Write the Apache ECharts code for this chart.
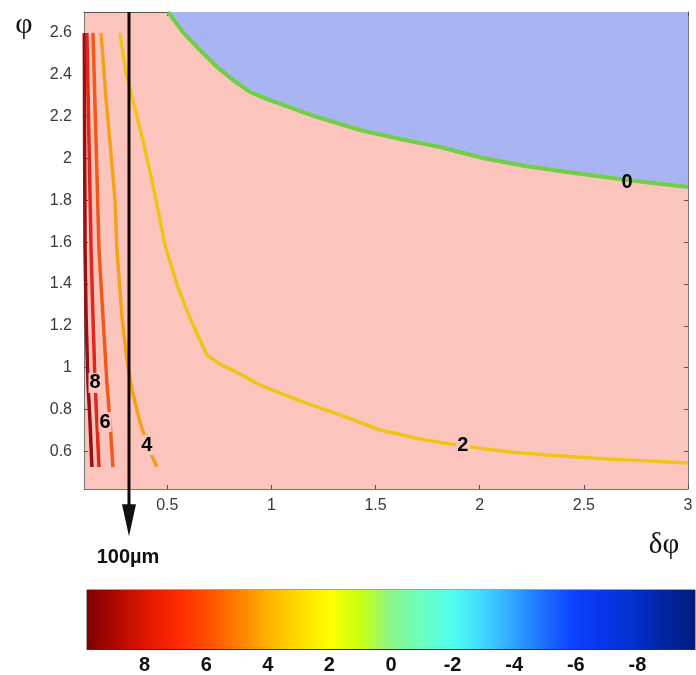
<!DOCTYPE html>
<html><head><meta charset="utf-8">
<script src="https://cdn.jsdelivr.net/npm/echarts@6/dist/echarts.min.js"></script>
<style>html,body{margin:0;padding:0;background:#fff;} #main{width:696px;height:675px;}</style>
</head><body><div id="main"></div>
<script>
// ---------- data ----------
const xTicks = [0.5, 1, 1.5, 2, 2.5, 3];
const yTicks = [0.6, 0.8, 1, 1.2, 1.4, 1.6, 1.8, 2, 2.2, 2.4, 2.6];
const colorbarTicks = [8, 6, 4, 2, 0, -2, -4, -6, -8];
const colorbarRange = [-9.87, 9.87];
const contourLevels = [10, 8, 6, 4, 2, 0];
const contour10 = [[0.1015,2.6],[0.103,2.05],[0.105,1.565],[0.110,1.246],[0.119,0.929],[0.129,0.738],[0.138,0.525]];
const contour8  = [[0.114,2.6],[0.124,2.076],[0.134,1.565],[0.143,1.246],[0.153,0.929],[0.162,0.738],[0.172,0.525]];
const contour6  = [[0.143,2.6],[0.158,2.076],[0.172,1.565],[0.191,1.246],[0.210,0.929],[0.225,0.738],[0.239,0.525]];
const contour4  = [[0.182,2.6],[0.206,2.281],[0.225,2.076],[0.249,1.80],[0.258,1.565],[0.282,1.246],[0.306,1.04],[0.330,0.897],[0.369,0.739],[0.407,0.625],[0.450,0.525]];
const contour2  = [[0.273,2.6],[0.297,2.437],[0.330,2.294],[0.383,2.088],[0.431,1.873],[0.489,1.586],[0.547,1.395],[0.609,1.237],[0.657,1.132],[0.691,1.060],[0.753,1.017],[0.849,0.970],[0.945,0.917],[1.137,0.841],[1.329,0.774],[1.521,0.702],[1.713,0.659],[1.919,0.625],[2.145,0.597],[2.323,0.582],[2.611,0.563],[2.817,0.554],[3.0,0.544]];
const contour0  = [[0.503,2.70],[0.575,2.604],[0.657,2.518],[0.739,2.437],[0.815,2.375],[0.897,2.318],[0.979,2.284],[1.055,2.256],[1.219,2.198],[1.425,2.136],[1.617,2.093],[1.809,2.055],[2.015,2.002],[2.217,1.964],[2.419,1.935],[2.707,1.897],[3.0,1.863]];
const labelText = ['8', '6', '4', '2', '0'];
const labelPos  = [[0.153,0.927],[0.201,0.740],[0.402,0.630],[1.919,0.630],[2.707,1.883]];
const arrowX = 0.316;
const arrowY = [2.7, 0.271];

// ---------- styles ----------
const levelColors = {10:'#980f0f', 8:'#e3261a', 6:'#f4581c', 4:'#f5a11a', 2:'#f0c417', 0:'#6fcf45'};
const contours = {10:contour10, 8:contour8, 6:contour6, 4:contour4, 2:contour2};
const pink = '#fbc5bd', blue = '#a9b5f2';
const sans = '"Liberation Sans", Arial, sans-serif';
const serif = '"Liberation Serif", "DejaVu Serif", serif';

const chart = echarts.init(document.getElementById('main'));
const series = [];
series.push({
  type:'line', xAxisIndex:0, yAxisIndex:0, data: contour0, symbol:'none', z:2,
  lineStyle:{color:levelColors[0], width:4},
  areaStyle:{color:blue, opacity:1, origin:'end'}
});
contourLevels.filter(l => l !== 0).forEach(l => {
  series.push({type:'line', xAxisIndex:0, yAxisIndex:0, data: contours[l], symbol:'none', z:3,
    lineStyle:{color:levelColors[l], width:3.5}});
});
series.push({
  type:'scatter', xAxisIndex:0, yAxisIndex:0, z:6, symbolSize:1, itemStyle:{color:'rgba(0,0,0,0)'},
  data: labelPos.map((p, i) => ({value:p, label:{backgroundColor: labelText[i] === '0' ? 'transparent' : pink}})),
  label:{show:true, position:'inside', formatter: p => labelText[p.dataIndex],
    fontFamily:sans, fontWeight:'bold', fontSize:20, color:'#000', opacity:1,
    textBorderWidth:0, textBorderColor:'transparent', padding:[0,1]}
});
series.push({
  type:'line', xAxisIndex:0, yAxisIndex:0, clip:false, z:10,
  data:[{value:[arrowX, arrowY[0]], symbol:'none'},
        {value:[arrowX, arrowY[1]], symbol:'triangle', symbolSize:[14,32], symbolRotate:180}],
  lineStyle:{color:'#140606', width:3}, itemStyle:{color:'#111'}
});
series.push({
  type:'line', xAxisIndex:2, yAxisIndex:2, symbol:'none',
  data:[[colorbarRange[1],1],[colorbarRange[0],1]],
  lineStyle:{width:0},
  areaStyle:{opacity:1, origin:'start', color: new echarts.graphic.LinearGradient(0,0,1,0,[
    {offset:0.00, color:'#800000'},{offset:0.05, color:'#b00a00'},{offset:0.10, color:'#e21800'},
    {offset:0.15, color:'#ff2a00'},{offset:0.20, color:'#ff5000'},{offset:0.25, color:'#ff8000'},
    {offset:0.30, color:'#ffb400'},{offset:0.35, color:'#ffdc00'},{offset:0.40, color:'#ffff00'},
    {offset:0.45, color:'#c6ff10'},{offset:0.50, color:'#8cf68a'},{offset:0.55, color:'#6cffbf'},
    {offset:0.60, color:'#50ffee'},{offset:0.65, color:'#40d8ff'},{offset:0.70, color:'#30a6ff'},
    {offset:0.75, color:'#1c70ff'},{offset:0.80, color:'#0c42ff'},{offset:0.85, color:'#0636ea'},
    {offset:0.90, color:'#0330cc'},{offset:0.95, color:'#02249e'},{offset:1.00, color:'#011a7c'}])}
});

const tickStyle = {lineStyle:{color:'#555', width:1}};
chart.setOption({
  animation:false,
  grid:[
    {left:84, top:12, width:604, height:477, show:true, backgroundColor:pink, borderWidth:0},
    {left:87, top:590, width:608, height:60, show:true, backgroundColor:'transparent', borderColor:'#444', borderWidth:1}
  ],
  xAxis:[
    {type:'value', gridIndex:0, min:0.1, max:3, splitLine:{show:false},
      axisLine:{show:true, lineStyle:{color:'#777'}},
      axisTick:{show:true, inside:true, length:4, customValues:xTicks, ...tickStyle},
      axisLabel:{customValues:xTicks, fontFamily:sans, fontSize:16, color:'#3a3a3a', margin:9}},
    {type:'value', gridIndex:0, position:'top', min:0.1, max:3, splitLine:{show:false},
      axisLine:{show:true, lineStyle:{color:'#555'}},
      axisTick:{show:true, inside:true, length:4, customValues:xTicks, ...tickStyle},
      axisLabel:{show:false}},
    {type:'value', gridIndex:1, min:colorbarRange[0], max:colorbarRange[1], inverse:true, splitLine:{show:false},
      axisLine:{show:true, lineStyle:{color:'#333'}},
      axisTick:{show:true, inside:true, length:3, customValues:colorbarTicks, lineStyle:{color:'#333'}},
      axisLabel:{customValues:colorbarTicks, fontFamily:sans, fontSize:20, fontWeight:'bold', color:'#111', margin:6}},
    {type:'value', gridIndex:1, position:'top', min:colorbarRange[0], max:colorbarRange[1], inverse:true, splitLine:{show:false},
      axisLine:{show:false},
      axisTick:{show:true, inside:true, length:3, customValues:colorbarTicks, lineStyle:{color:'#333'}},
      axisLabel:{show:false}}
  ],
  yAxis:[
    {type:'value', gridIndex:0, min:0.42, max:2.7, splitLine:{show:false},
      axisLine:{show:true, lineStyle:{color:'#777'}},
      axisTick:{show:true, inside:true, length:4, customValues:yTicks, ...tickStyle},
      axisLabel:{customValues:yTicks, fontFamily:sans, fontSize:16, color:'#3a3a3a', margin:12}},
    {type:'value', gridIndex:0, position:'right', min:0.42, max:2.7, splitLine:{show:false},
      axisLine:{show:true, lineStyle:{color:'#777'}},
      axisTick:{show:true, inside:true, length:4, customValues:yTicks, ...tickStyle},
      axisLabel:{show:false}},
    {type:'value', gridIndex:1, min:0, max:1, show:false}
  ],
  graphic:[
    {type:'text', x:128, y:557, z:20, style:{text:'100µm', font:'bold 20px '+sans, fill:'#111', textAlign:'center', textVerticalAlign:'middle'}},
    {type:'text', x:24, y:25, z:20, style:{text:'φ', font:'30px '+serif, fill:'#111', textAlign:'center', textVerticalAlign:'middle'}},
    {type:'text', x:664, y:545, z:20, style:{text:'δφ', font:'29px '+serif, fill:'#111', textAlign:'center', textVerticalAlign:'middle'}}
  ],
  series: series
});
</script>
</body></html>
